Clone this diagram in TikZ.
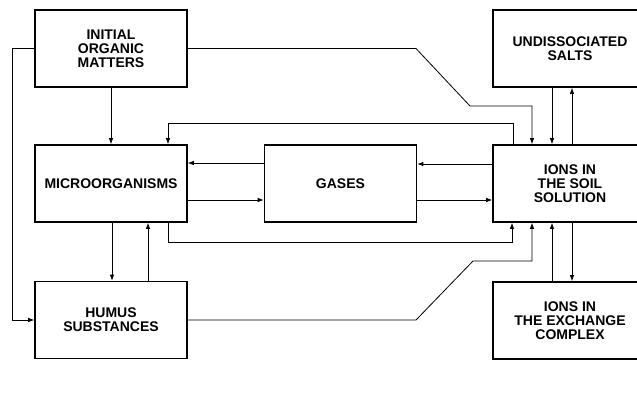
\documentclass[tikz,border=0pt]{standalone}
\usepackage{fontspec}
\setmainfont{Liberation Sans}
\usetikzlibrary{arrows.meta}
\tikzset{box/.style={draw,line width=1.6pt,minimum width=152pt,minimum height=77pt,inner sep=0pt,align=center,font=\bfseries\fontsize{14}{14}\selectfont},
  wbox/.style={box,minimum width=154pt},
  con/.style={line width=.8pt,-{Latex[length=6pt,width=4.5pt]}}}

\begin{document}
\begin{tikzpicture}[x=1pt,y=-1pt]
\useasboundingbox (0,0) rectangle (637,405);
\node[box] (init) at (111,48.5) {INITIAL\\ORGANIC\\MATTERS};
\node[box] (micro) at (111,183.5) {MICROORGANISMS};
\node[box] (gas) at (340.5,183.5) {GASES};
\node[box] (hum) at (111,320) {HUMUS\\SUBSTANCES};
\node[wbox] (salt) at (570,48.5) {UNDISSOCIATED\\SALTS};
\node[wbox] (soil) at (570,183.5) {IONS IN\\THE SOIL\\SOLUTION};
\node[wbox] (exch) at (570,320.5) {IONS IN\\THE EXCHANGE\\COMPLEX};

\draw[con] (init) -- (micro);
\draw[con] (init.west) -- ++(-22,0) |- (hum.west);
\draw[con] (init.east) -- (416,48.5) -- (470,106) -| (soil.north -| 532,0);
\draw[con] (soil.north -| 513,0) |- (168,123) -- (micro.north -| 168,0);
\foreach \n/\p/\q in {salt/south/north,exch/north/south}{
  \draw[con] (\n.\p -| 552,0) -- (soil.\q -| 552,0);
  \draw[con] (soil.\q -| 572,0) -- (\n.\p -| 572,0);
}
\draw[con] (gas.west |- 0,163) -- (micro.east |- 0,163);
\draw[con] (soil.west |- 0,164) -- (gas.east |- 0,164);
\draw[con] (micro.east |- 0,200) -- (gas.west |- 0,200);
\draw[con] (gas.east |- 0,200) -- (soil.west |- 0,200);
\draw[con] (micro.south -| 168,0) |- (512,242) -- (soil.south -| 512,0);
\draw[con] (micro.south -| 112,0) -- (hum.north -| 112,0);
\draw[con] (hum.north -| 148,0) -- (micro.south -| 148,0);
\draw[con] (hum.east) -- (416,320) -- (473,261) -| (soil.south -| 532,0);
\end{tikzpicture}
\end{document}
